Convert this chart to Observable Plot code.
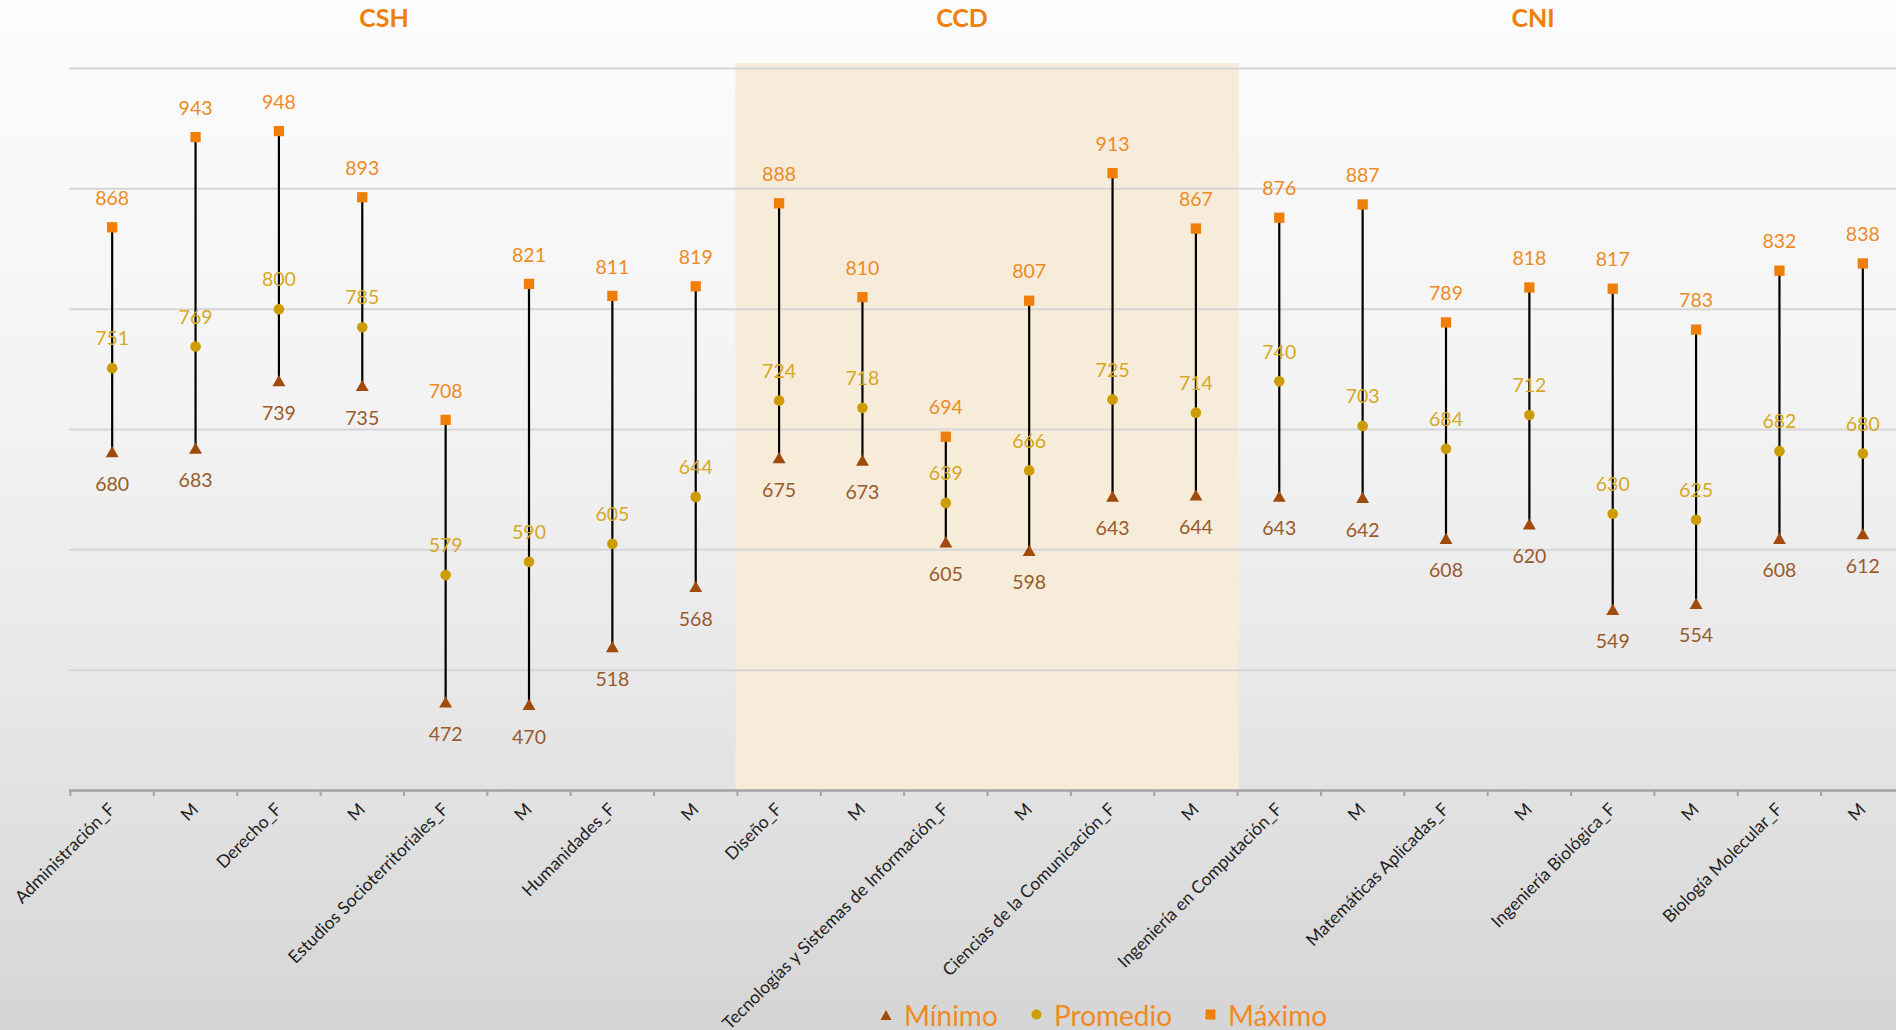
<!DOCTYPE html>
<html>
<head>
<meta charset="utf-8">
<script src="https://cdn.jsdelivr.net/npm/d3@7"></script>
<script src="https://cdn.jsdelivr.net/npm/@observablehq/plot@0.6"></script>
<style>
  html, body { margin: 0; padding: 0; }
  body {
    width: 1896px; height: 1030px; overflow: hidden;
    background: linear-gradient(180deg, #fcfcfc 0%, #f3f3f3 40%, #e6e6e6 70%, #d5d5d5 100%);
    font-family: Lato, "Open Sans", sans-serif;
  }
  #wrap { position: relative; width: 1896px; height: 1030px; }
  #chart { position: absolute; left: 0; top: 0; }
  .title { position: absolute; top: 2px; font-weight: 700; font-size: 25px; color: #F07F09; transform: translateX(-50%); }
  .leg { position: absolute; top: 994px; font-size: 28px; color: #F08A24; white-space: nowrap; }
  .sym { display: inline-block; vertical-align: middle; margin-right: 12px; }
</style>
</head>
<body>
<div id="wrap">
  <div id="chart"></div>
</div>
<script>
const categories = [
  "Administración_F","M","Derecho_F","M",
  "Estudios Socioterritoriales_F","M","Humanidades_F","M",
  "Diseño_F","M","Tecnologías y Sistemas de Información_F","M",
  "Ciencias de la Comunicación_F","M",
  "Ingeniería en Computación_F","M","Matemáticas Aplicadas_F","M",
  "Ingeniería Biológica_F","M","Biología Molecular_F","M"
];
const divisions = [
  "CSH","CSH","CSH","CSH","CSH","CSH","CSH","CSH",
  "CCD","CCD","CCD","CCD","CCD","CCD",
  "CNI","CNI","CNI","CNI","CNI","CNI","CNI","CNI"
];
const maximo   = [868, 943, 948, 893, 708, 821, 811, 819, 888, 810, 694, 807, 913, 867, 876, 887, 789, 818, 817, 783, 832, 838];
const promedio = [751, 769, 800, 785, 579, 590, 605, 644, 724, 718, 639, 666, 725, 714, 740, 703, 684, 712, 630, 625, 682, 680];
const minimo   = [680, 683, 739, 735, 472, 470, 518, 568, 675, 673, 605, 598, 643, 644, 643, 642, 608, 620, 549, 554, 608, 612];
const gridValues = [500, 600, 700, 800, 900, 1000];
const yDomain = [400, 1000];
const divisionTitles = ["CSH", "CCD", "CNI"];
const legendLabels = ["Mínimo", "Promedio", "Máximo"];

const rows = categories.map((label, i) => ({
  key: String(i), label, division: divisions[i],
  max: maximo[i], mean: promedio[i], min: minimo[i]
}));
const keys = rows.map(d => d.key);

const xRange = [70, 1904];
const bw = (xRange[1] - xRange[0]) / keys.length;

const cMax = "#F07F09", cMaxLab = "#EE8A26";
const cMean = "#CC9C00", cMeanLab = "#D6A824";
const cMin = "#A04A0C", cMinLab = "#9A5A2C";

const chart = Plot.plot({
  width: 1896, height: 1030,
  marginTop: 68, marginBottom: 240, marginLeft: 69, marginRight: 0,
  style: { background: "transparent", fontFamily: "Lato, 'Open Sans', sans-serif", overflow: "visible" },
  x: { domain: keys, range: xRange, padding: 0, round: false, axis: null },
  y: { domain: yDomain, range: [790, 68], axis: null },
  marks: [
    Plot.barY(rows.filter(d => d.division === "CCD"), { x: "key", y1: yDomain[0], y2: 1004, fill: "#F7EBD9", insetLeft: -1.5, insetRight: -1.5 }),
    Plot.ruleY(gridValues, { stroke: "#d6d6d6", strokeWidth: 2 }),
    Plot.ruleY([yDomain[0]], { stroke: "#a3a3a3", strokeWidth: 2.5 }),
    Plot.ruleX(rows, { x: "key", dx: -bw / 2, y1: yDomain[0], y2: 395, stroke: "#a3a3a3", strokeWidth: 2 }),
    Plot.axisX({
      tickRotate: -45, tickSize: 0, tickPadding: 16, label: null,
      tickFormat: k => categories[+k], fontSize: 17.5, fill: "#1e1e1e"
    }),
    Plot.ruleX(rows, { x: "key", y1: "min", y2: "max", stroke: "#000", strokeWidth: 2.2 }),
    Plot.dot(rows, { x: "key", y: "min", symbol: "triangle", r: 4.8, fill: cMin }),
    Plot.dot(rows, { x: "key", y: "mean", symbol: "circle", r: 5.3, fill: cMean }),
    Plot.dot(rows, { x: "key", y: "max", symbol: "square", r: 5.8, fill: cMax }),
    Plot.text(rows, { x: "key", y: "max", text: d => String(d.max), dy: -28.5, fill: cMaxLab, fontSize: 19.5 }),
    Plot.text(rows, { x: "key", y: "mean", text: d => String(d.mean), dy: -29, fill: cMeanLab, fontSize: 19.5 }),
    Plot.text(rows, { x: "key", y: "min", text: d => String(d.min), dy: 31, fill: cMinLab, fontSize: 19.5 })
  ]
});
document.getElementById("chart").appendChild(chart);

const wrap = document.getElementById("wrap");
const titleX = [384, 962, 1533];
divisionTitles.forEach((t, i) => {
  const el = document.createElement("div");
  el.className = "title";
  el.style.left = titleX[i] + "px";
  el.textContent = t;
  wrap.appendChild(el);
});

const legSyms = [
  `<svg class="sym" width="12" height="12"><polygon points="6,1 11.5,11 0.5,11" fill="${cMin}"/></svg>`,
  `<svg class="sym" width="11" height="11"><circle cx="5.5" cy="5.5" r="5" fill="${cMean}"/></svg>`,
  `<svg class="sym" width="11" height="11"><rect x="0.5" y="0.5" width="10" height="10" fill="${cMax}"/></svg>`
];
const legX = [880, 1031, 1205];
legendLabels.forEach((t, i) => {
  const el = document.createElement("div");
  el.className = "leg";
  el.style.left = legX[i] + "px";
  el.innerHTML = legSyms[i] + `<span style="vertical-align:middle">${t}</span>`;
  wrap.appendChild(el);
});
</script>
</body>
</html>
